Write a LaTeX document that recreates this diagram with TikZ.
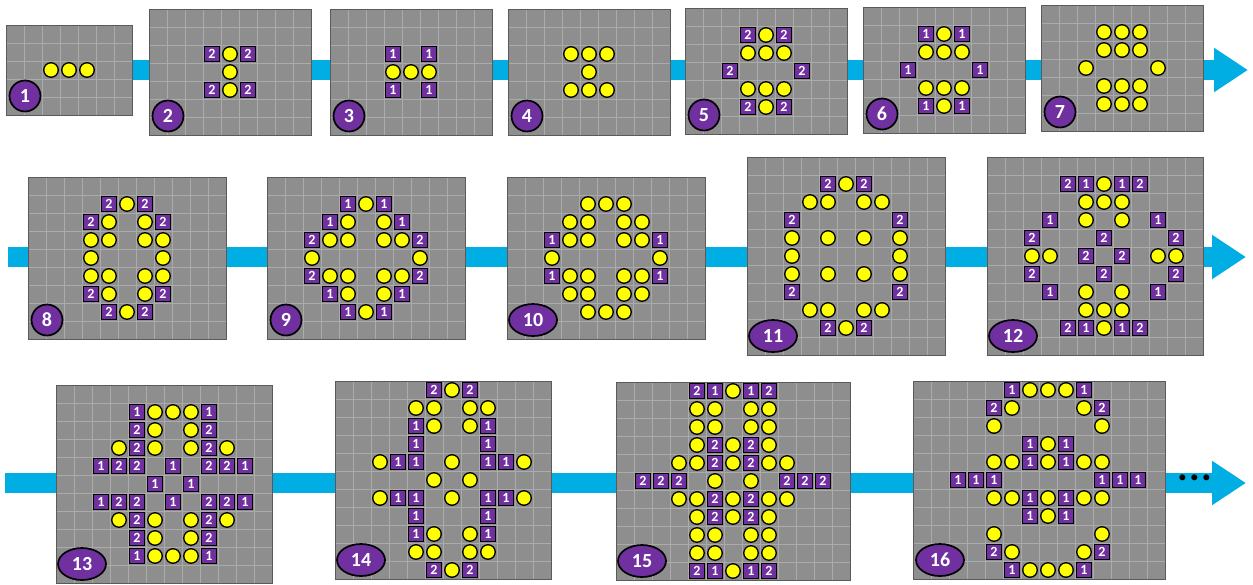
\documentclass[tikz,border=0pt]{standalone}
\usepackage{fontspec}
\setmainfont{Carlito}
\usetikzlibrary{arrows.meta,shapes.geometric}
\definecolor{panelgray}{HTML}{8E8E8E}
\definecolor{gridgray}{HTML}{ABABAB}
\definecolor{edgegray}{HTML}{5A5A5A}
\definecolor{tilepurple}{HTML}{7030A0}
\definecolor{coinyellow}{HTML}{FFFF00}
\definecolor{bandblue}{HTML}{00AEE4}
\tikzset{
 panelbox/.style={draw=edgegray, line width=1pt, fill=panelgray, anchor=north west, inner sep=0pt, outer sep=0pt},
 gridln/.style={draw=gridgray, line width=0.9pt},
 coin/.style={circle, draw=black, line width=1.3pt, fill=coinyellow, minimum size=14.5pt, inner sep=0pt},
 tile/.style={rectangle, draw=black, line width=1.4pt, fill=tilepurple, minimum size=15.5pt, inner sep=0pt, text=white, font=\bfseries\fontsize{14}{14}\selectfont},
 lblbase/.style={draw=black, line width=1.7pt, fill=tilepurple, text=white, inner sep=0pt, font=\bfseries\fontsize{20}{20}\selectfont},
 lblone/.style={lblbase, circle, minimum size=31pt},
 lbltwo/.style={lblbase, ellipse, minimum width=48pt, minimum height=32pt},
 band/.style={draw=bandblue, line width=20pt},
 bandtip/.style={-{Triangle[length=34pt,width=42pt]}},
}
% name, left, top, cols, rows, label, label style, label dx
\newcommand\gridpanel[8]{%
  \node[panelbox, minimum width=#4*18pt, minimum height=#5*18pt] (#1) at (#2,#3) {};
  \pgfmathtruncatemacro\gpc{#4-1}%
  \pgfmathtruncatemacro\gpr{#5-1}%
  \foreach \gi in {1,...,\gpc} \draw[gridln] ({#2+\gi*18},#3) -- ({#2+\gi*18},{#3+#5*18});
  \foreach \gj in {1,...,\gpr} \draw[gridln] (#2,{#3+\gj*18}) -- ({#2+#4*18},{#3+\gj*18});
  \draw[draw=edgegray, line width=1pt] (#1.north west) rectangle (#1.south east);
  \node[#7] (#1l) at ({#2+#8},{#3+#5*18-19}) {#6};
}
% name, left, top, list of col/row/type
\newcommand\putitems[4]{%
  \foreach \ci/\ri/\ty in {#4} {%
    \if o\ty
      \node[coin] (#1-\ci-\ri) at ({#2+(\ci+0.5)*18},{#3+(\ri+0.5)*18}) {};
    \else
      \node[tile] (#1-\ci-\ri) at ({#2+(\ci+0.5)*18},{#3+(\ri+0.5)*18}) {\ty};
    \fi
  }%
}
\begin{document}
\begin{tikzpicture}[x=1pt,y=-1pt]
\useasboundingbox (0,0) rectangle (1253,584);
% bands
\coordinate (b1s) at (133,70);
\coordinate (b1t) at (1248,70);
\coordinate (b2s) at (8,257);
\coordinate (b2t) at (1246,257);
\coordinate (b3s) at (5,483);
\coordinate (b3t) at (1246,483);
\draw[band,bandtip] (b1s) -- (b1t);
\draw[band,bandtip] (b2s) -- (b2t);
\draw[band,bandtip] (b3s) -- (b3t);
% row 1
\gridpanel{P1}{6}{25}{7}{5}{1}{lblone}{19}
\putitems{P1}{6}{25}{2/2/o,3/2/o,4/2/o}
\gridpanel{P2}{149}{9}{9}{7}{2}{lblone}{19}
\putitems{P2}{149}{9}{3/2/2,4/2/o,5/2/2,4/3/o,3/4/2,4/4/o,5/4/2}
\gridpanel{P3}{330}{9}{9}{7}{3}{lblone}{19}
\putitems{P3}{330}{9}{3/2/1,5/2/1,3/3/o,4/3/o,5/3/o,3/4/1,5/4/1}
\gridpanel{P4}{508}{9}{9}{7}{4}{lblone}{19}
\putitems{P4}{508}{9}{3/2/o,4/2/o,5/2/o,4/3/o,3/4/o,4/4/o,5/4/o}
\gridpanel{P5}{685}{8}{9}{7}{5}{lblone}{19}
\putitems{P5}{685}{8}{3/1/2,4/1/o,5/1/2,3/2/o,4/2/o,5/2/o,2/3/2,6/3/2,3/4/o,4/4/o,5/4/o,3/5/2,4/5/o,5/5/2}
\gridpanel{P6}{863}{7}{9}{7}{6}{lblone}{19}
\putitems{P6}{863}{7}{3/1/1,4/1/o,5/1/1,3/2/o,4/2/o,5/2/o,2/3/1,6/3/1,3/4/o,4/4/o,5/4/o,3/5/1,4/5/o,5/5/1}
\gridpanel{P7}{1041}{5}{9}{7}{7}{lblone}{19}
\putitems{P7}{1041}{5}{3/1/o,4/1/o,5/1/o,3/2/o,4/2/o,5/2/o,2/3/o,6/3/o,3/4/o,4/4/o,5/4/o,3/5/o,4/5/o,5/5/o}
% row 2
\gridpanel{P8}{28}{177}{11}{9}{8}{lblone}{19}
\putitems{P8}{28}{177}{4/1/2,5/1/o,6/1/2,3/2/2,4/2/o,6/2/o,7/2/2,3/3/o,4/3/o,6/3/o,7/3/o,3/4/o,7/4/o,3/5/o,4/5/o,6/5/o,7/5/o,3/6/2,4/6/o,6/6/o,7/6/2,4/7/2,5/7/o,6/7/2}
\gridpanel{P9}{267}{177}{11}{9}{9}{lblone}{19}
\putitems{P9}{267}{177}{4/1/1,5/1/o,6/1/1,3/2/1,4/2/o,6/2/o,7/2/1,2/3/2,3/3/o,4/3/o,6/3/o,7/3/o,8/3/2,2/4/o,8/4/o,2/5/2,3/5/o,4/5/o,6/5/o,7/5/o,8/5/2,3/6/1,4/6/o,6/6/o,7/6/1,4/7/1,5/7/o,6/7/1}
\gridpanel{P10}{507}{177}{11}{9}{10}{lbltwo}{26}
\putitems{P10}{507}{177}{4/1/o,5/1/o,6/1/o,3/2/o,4/2/o,6/2/o,7/2/o,2/3/1,3/3/o,4/3/o,6/3/o,7/3/o,8/3/1,2/4/o,8/4/o,2/5/1,3/5/o,4/5/o,6/5/o,7/5/o,8/5/1,3/6/o,4/6/o,6/6/o,7/6/o,4/7/o,5/7/o,6/7/o}
\gridpanel{P11}{747}{157}{11}{11}{11}{lbltwo}{26}
\putitems{P11}{747}{157}{4/1/2,5/1/o,6/1/2,3/2/o,4/2/o,6/2/o,7/2/o,2/3/2,8/3/2,2/4/o,4/4/o,6/4/o,8/4/o,2/5/o,8/5/o,2/6/o,4/6/o,6/6/o,8/6/o,2/7/2,8/7/2,3/8/o,4/8/o,6/8/o,7/8/o,4/9/2,5/9/o,6/9/2}
\gridpanel{P12}{987}{157}{12}{11}{12}{lbltwo}{26}
\putitems{P12}{987}{157}{4/1/2,5/1/1,6/1/o,7/1/1,8/1/2,5/2/o,6/2/o,7/2/o,3/3/1,5/3/o,7/3/o,9/3/1,2/4/2,6/4/2,10/4/2,2/5/o,3/5/o,5/5/2,7/5/2,9/5/o,10/5/o,2/6/2,6/6/2,10/6/2,3/7/1,5/7/o,7/7/o,9/7/1,5/8/o,6/8/o,7/8/o,4/9/2,5/9/1,6/9/o,7/9/1,8/9/2}
% row 3
\gridpanel{P13}{56}{385}{12}{11}{13}{lbltwo}{26}
\putitems{P13}{56}{385}{4/1/1,5/1/o,6/1/o,7/1/o,8/1/1,4/2/2,5/2/o,7/2/o,8/2/2,3/3/o,4/3/2,5/3/o,7/3/o,8/3/2,9/3/o,2/4/1,3/4/2,4/4/2,6/4/1,8/4/2,9/4/2,10/4/1,5/5/1,7/5/1,2/6/1,3/6/2,4/6/2,6/6/1,8/6/2,9/6/2,10/6/1,3/7/o,4/7/2,5/7/o,7/7/o,8/7/2,9/7/o,4/8/2,5/8/o,7/8/o,8/8/2,4/9/1,5/9/o,6/9/o,7/9/o,8/9/1}
\gridpanel{P14}{335}{381}{12}{11}{14}{lbltwo}{26}
\putitems{P14}{335}{381}{5/0/2,6/0/o,7/0/2,4/1/o,5/1/o,7/1/o,8/1/o,4/2/1,5/2/o,7/2/o,8/2/1,4/3/1,8/3/1,2/4/o,3/4/1,4/4/1,6/4/o,8/4/1,9/4/1,10/4/o,5/5/o,7/5/o,2/6/o,3/6/1,4/6/1,6/6/o,8/6/1,9/6/1,10/6/o,4/7/1,8/7/1,4/8/1,5/8/o,7/8/o,8/8/1,4/9/o,5/9/o,7/9/o,8/9/o,5/10/2,6/10/o,7/10/2}
\gridpanel{P15}{616}{382}{13}{11}{15}{lbltwo}{26}
\putitems{P15}{616}{382}{4/0/2,5/0/1,6/0/o,7/0/1,8/0/2,4/1/o,5/1/o,7/1/o,8/1/o,4/2/o,5/2/o,7/2/o,8/2/o,4/3/o,5/3/2,6/3/o,7/3/2,8/3/o,3/4/o,4/4/o,5/4/2,6/4/o,7/4/2,8/4/o,9/4/o,1/5/2,2/5/2,3/5/2,5/5/o,7/5/o,9/5/2,10/5/2,11/5/2,3/6/o,4/6/o,5/6/2,6/6/o,7/6/2,8/6/o,9/6/o,4/7/o,5/7/2,6/7/o,7/7/2,8/7/o,4/8/o,5/8/o,7/8/o,8/8/o,4/9/o,5/9/o,7/9/o,8/9/o,4/10/2,5/10/1,6/10/o,7/10/1,8/10/2}
\gridpanel{P16}{913}{381}{14}{11}{16}{lbltwo}{27}
\putitems{P16}{913}{381}{5/0/1,6/0/o,7/0/o,8/0/o,9/0/1,4/1/2,5/1/o,9/1/o,10/1/2,4/2/o,10/2/o,6/3/1,7/3/o,8/3/1,4/4/o,5/4/o,6/4/1,7/4/o,8/4/1,9/4/o,10/4/o,2/5/1,3/5/1,4/5/1,10/5/1,11/5/1,12/5/1,4/6/o,5/6/o,6/6/1,7/6/o,8/6/1,9/6/o,10/6/o,6/7/1,7/7/o,8/7/1,4/8/o,10/8/o,4/9/2,5/9/o,9/9/o,10/9/2,5/10/1,6/10/o,7/10/o,8/10/o,9/10/1}
\node[font=\bfseries\fontsize{40}{40}\selectfont, inner sep=0pt] (dots) at (1195,478) {.\kern1.5pt.\kern1.5pt.};
\end{tikzpicture}
\end{document}
